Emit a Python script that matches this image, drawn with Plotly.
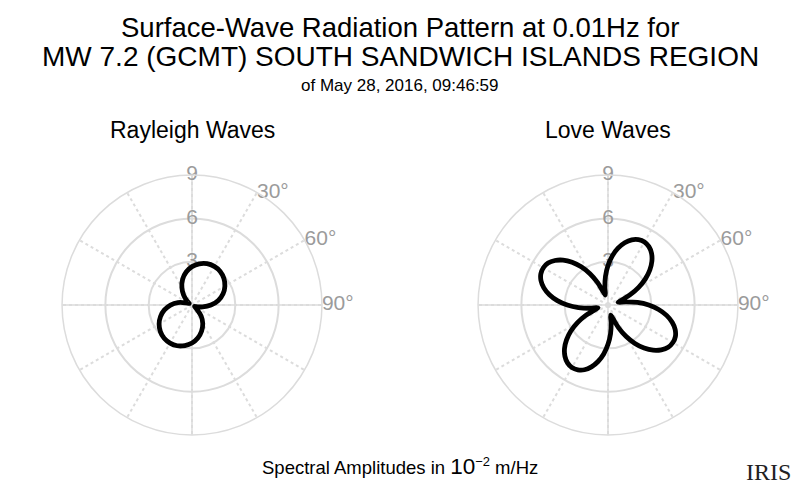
import plotly.graph_objects as go

# Azimuths (degrees clockwise from north)
rayleigh_theta = list(range(0, 361, 10))
rayleigh_r = [2.66, 2.90, 3.05, 3.09, 3.04, 2.88, 2.63, 2.29, 1.85, 1.31,
              0.75, 0.35, 0.20, 0.40, 0.98, 1.49, 1.93, 2.32, 2.63, 2.85,
              3.00, 3.04, 3.00, 2.86, 2.63, 2.32, 1.94, 1.49, 0.99, 0.45,
              0.22, 0.45, 0.90, 1.40, 1.90, 2.32, 2.66]

love_theta = list(range(0, 361, 5))
love_r = [2.74, 3.42, 4.00, 4.47, 4.81, 5.00, 5.05, 4.94, 4.69, 4.30,
          3.78, 3.16, 2.45, 1.70, 0.99, 0.72, 1.28, 2.05, 2.82, 3.52,
          4.12, 4.60, 4.95, 5.15, 5.19, 5.09, 4.82, 4.42, 3.89, 3.25,
          2.52, 1.74, 1.00, 0.72, 1.26, 2.00, 2.72, 3.40, 3.97, 4.43,
          4.77, 4.95, 5.00, 4.89, 4.64, 4.26, 3.75, 3.14, 2.44, 1.70,
          0.99, 0.72, 1.28, 2.05, 2.82, 3.52, 4.12, 4.60, 4.94, 5.13,
          5.17, 5.07, 4.80, 4.40, 3.87, 3.23, 2.50, 1.73, 1.00, 0.72,
          1.26, 2.00, 2.74]

radial_ticks = [3, 6, 9]
radial_max = 9
angle_gridvals = list(range(0, 360, 30))
angle_labelvals = [30, 60, 90]
angle_labels = ["30°", "60°", "90°"]
axis_spokes_theta = [0, 0, 90, 90, 180, 180, 270]
axis_spokes_r = [9, 0, 9, 0, 9, 0, 9]

title_line1 = "Surface-Wave Radiation Pattern at 0.01Hz for"
title_line2 = "MW 7.2 (GCMT) SOUTH SANDWICH ISLANDS REGION"
title_line3 = "of May 28, 2016, 09:46:59"
sub_titles = ["Rayleigh Waves", "Love Waves"]
x_label = "Spectral Amplitudes in <span style='font-size:22.5px'>10</span><sup>−2</sup> m/Hz"

GRID = "#dcdcdc"
LABEL = "#9b9b9b"
FONT = "Liberation Sans, Arial, sans-serif"

fig = go.Figure()

for i, (th, rr) in enumerate([(rayleigh_theta, rayleigh_r), (love_theta, love_r)]):
    sp = "polar" if i == 0 else "polar2"
    fig.add_trace(go.Scatterpolar(theta=axis_spokes_theta, r=axis_spokes_r, mode="lines",
                                  line=dict(color=GRID, width=1.5), hoverinfo="skip",
                                  showlegend=False, subplot=sp))
    fig.add_trace(go.Scatterpolar(theta=[0] * len(radial_ticks), r=radial_ticks, mode="text",
                                  text=[str(v) for v in radial_ticks], textposition="middle center",
                                  textfont=dict(color=LABEL, size=21, family=FONT),
                                  cliponaxis=False, hoverinfo="skip", showlegend=False, subplot=sp))
    fig.add_trace(go.Scatterpolar(theta=angle_labelvals, r=[radial_max] * len(angle_labelvals),
                                  mode="text", text=angle_labels, textposition="middle right",
                                  textfont=dict(color=LABEL, size=21, family=FONT),
                                  cliponaxis=False, hoverinfo="skip", showlegend=False, subplot=sp))
    fig.add_trace(go.Scatterpolar(theta=th, r=rr, mode="lines",
                                  line=dict(color="black", width=4.8, shape="spline"),
                                  showlegend=False, subplot=sp))

polar_common = dict(
    bgcolor="white",
    radialaxis=dict(range=[0, radial_max], tickvals=radial_ticks, showticklabels=False, ticks="",
                    showline=False, gridcolor=GRID, gridwidth=1.5, angle=90),
    angularaxis=dict(rotation=90, direction="clockwise", tickvals=angle_gridvals,
                     showticklabels=False, ticks="", showline=True, linecolor=GRID,
                     linewidth=1.5, gridcolor=GRID, gridwidth=1.5, griddash="dot"),
)

fig.update_layout(
    width=800, height=496,
    margin=dict(l=0, r=0, t=0, b=0),
    paper_bgcolor="white",
    polar=dict(domain=dict(x=[0.0775, 0.4025], y=[0.123, 0.647]), **polar_common),
    polar2=dict(domain=dict(x=[0.5975, 0.9225], y=[0.123, 0.647]), **polar_common),
    font=dict(family=FONT, color="black"),
)

ann = [
    dict(text=title_line1, x=0.5, y=1 - 28 / 496, size=27.5),
    dict(text=title_line2, x=0.5, y=1 - 57 / 496, size=28),
    dict(text=title_line3, x=0.5, y=1 - 86 / 496, size=17),
    dict(text=sub_titles[0], x=0.24, y=1 - 130 / 496, size=23),
    dict(text=sub_titles[1], x=0.76, y=1 - 130 / 496, size=23),
    dict(text=x_label, x=0.5, y=1 - 466 / 496, size=18.5),
]
for a in ann:
    fig.add_annotation(text=a["text"], x=a["x"], y=a["y"], xref="paper", yref="paper",
                       showarrow=False, xanchor="center", yanchor="middle",
                       font=dict(size=a["size"], family=FONT, color="black"))

fig.add_annotation(text="IRIS", x=768 / 800, y=1 - 472 / 496, xref="paper", yref="paper",
                   showarrow=False, xanchor="center", yanchor="middle",
                   font=dict(size=24, family="Liberation Serif, Times New Roman, serif", color="#222222"))

fig.write_html("out.html", config={"displayModeBar": False},
               post_script="document.body.style.margin='0px';")
